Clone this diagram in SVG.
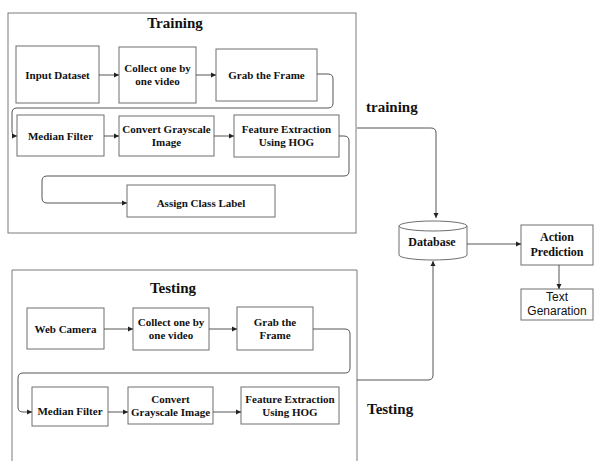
<svg xmlns="http://www.w3.org/2000/svg" width="594" height="461" viewBox="0 0 594 461">
<style>
.cont{fill:none;stroke:#7a7a7a;stroke-width:1}
.box{fill:#fff;stroke:#6e6e6e;stroke-width:1}
.t{font-family:"Liberation Serif","Times New Roman",serif;font-weight:bold;font-size:11px;fill:#111;text-anchor:middle}
.title{font-family:"Liberation Serif","Times New Roman",serif;font-weight:bold;font-size:15px;fill:#111}
.s{font-family:"Liberation Sans",Arial,sans-serif;font-size:12px;fill:#111;text-anchor:middle}
.c{fill:none;stroke:#555;stroke-width:1}
</style>
<defs>
<marker id="ah" markerWidth="6" markerHeight="6" refX="5" refY="3" orient="auto" markerUnits="userSpaceOnUse">
<path d="M0,0.5 L5,3 L0,5.5 Z" fill="#222"/>
</marker>
</defs>
<rect x="0" y="0" width="594" height="461" fill="#fff"/>
<g id="training-container">
<rect class="cont" x="8" y="13" width="348" height="220"/>
<text class="title" x="175" y="28" text-anchor="middle">Training</text>
</g>
<g id="testing-container">
<path class="cont" d="M12,470 V270 H357 V470"/>
<text class="title" x="173" y="293" text-anchor="middle">Testing</text>
</g>
<g id="tr-input"><rect class="box" x="16" y="46" width="83" height="57"/><text class="t" x="57.5" y="79">Input Dataset</text></g>
<g id="tr-collect"><rect class="box" x="119" y="47" width="77" height="56"/><text class="t" x="157.5" y="72">Collect one by</text><text class="t" x="157.5" y="85">one video</text></g>
<g id="tr-grab"><rect class="box" x="216" y="49" width="101" height="52"/><text class="t" x="266.5" y="79">Grab the Frame</text></g>
<g id="tr-median"><rect class="box" x="17" y="115" width="87" height="41"/><text class="t" x="60.5" y="140">Median Filter</text></g>
<g id="tr-gray"><rect class="box" x="119" y="116" width="95" height="40"/><text class="t" x="166.5" y="133">Convert Grayscale</text><text class="t" x="166.5" y="146">Image</text></g>
<g id="tr-hog"><rect class="box" x="234" y="115" width="105" height="42"/><text class="t" x="286.5" y="133">Feature Extraction</text><text class="t" x="286.5" y="146">Using HOG</text></g>
<g id="tr-assign"><rect class="box" x="127" y="185" width="148" height="32"/><text class="t" x="201" y="207">Assign Class Label</text></g>
<g id="te-webcam"><rect class="box" x="27" y="308" width="77" height="41"/><text class="t" x="65.5" y="333">Web Camera</text></g>
<g id="te-collect"><rect class="box" x="133" y="308" width="76" height="42"/><text class="t" x="171" y="326">Collect one by</text><text class="t" x="171" y="339">one video</text></g>
<g id="te-grab"><rect class="box" x="237" y="307" width="76" height="43"/><text class="t" x="275" y="326">Grab the</text><text class="t" x="275" y="339">Frame</text></g>
<g id="te-median"><rect class="box" x="32" y="387" width="76" height="39"/><text class="t" x="70" y="415">Median Filter</text></g>
<g id="te-gray"><rect class="box" x="128" y="387" width="85" height="37"/><text class="t" x="170.5" y="403">Convert</text><text class="t" x="170.5" y="416">Grayscale Image</text></g>
<g id="te-hog"><rect class="box" x="241" y="387" width="98" height="37"/><text class="t" x="290" y="403">Feature Extraction</text><text class="t" x="290" y="416">Using HOG</text></g>
<g id="database">
<path d="M399,226 V255 A34,5 0 0 0 467,255 V226" fill="#fff" stroke="#6e6e6e"/>
<ellipse cx="433" cy="226" rx="34" ry="5" fill="#fff" stroke="#6e6e6e"/>
<text class="t" x="432" y="246" font-size="12" style="font-size:12px">Database</text>
</g>
<g id="action"><rect class="box" x="521" y="225" width="72" height="40"/><text class="t" style="font-size:12px" x="557" y="241">Action</text><text class="t" style="font-size:12px" x="557" y="256">Prediction</text></g>
<g id="textgen"><rect class="box" x="521" y="289" width="72" height="31"/><text class="s" x="557" y="301">Text</text><text class="s" x="557" y="315">Genaration</text></g>
<g id="labels">
<text class="title" x="366" y="112">training</text>
<text class="title" x="367" y="414">Testing</text>
</g>
<g id="connectors">
<path class="c" marker-end="url(#ah)" d="M99,75 H119"/>
<path class="c" marker-end="url(#ah)" d="M196,75 H216"/>
<path class="c" marker-end="url(#ah)" d="M317,74 H328 Q333,74 333,79 V103 Q333,108 328,108 H17 Q12,108 12,113 V131 Q12,136 17,136"/>
<path class="c" marker-end="url(#ah)" d="M104,136 H119"/>
<path class="c" marker-end="url(#ah)" d="M214,136 H234"/>
<path class="c" marker-end="url(#ah)" d="M339,136 H344 Q349,136 349,141 V171 Q349,176 344,176 H47 Q42,176 42,181 V198 Q42,203 47,203 H127"/>
<path class="c" marker-end="url(#ah)" d="M104,329 H133"/>
<path class="c" marker-end="url(#ah)" d="M209,329 H237"/>
<path class="c" marker-end="url(#ah)" d="M313,329 H345 Q350,329 350,334 V368 Q350,373 345,373 H23 Q18,373 18,378 V407 Q18,412 23,412 H32"/>
<path class="c" marker-end="url(#ah)" d="M108,412 H128"/>
<path class="c" marker-end="url(#ah)" d="M213,412 H241"/>
<path class="c" marker-end="url(#ah)" d="M357,128 H431 Q436,128 436,133 V218"/>
<path class="c" marker-end="url(#ah)" d="M357,380 H428 Q433,380 433,375 V261"/>
<path class="c" marker-end="url(#ah)" d="M467,244 H521"/>
<path class="c" marker-end="url(#ah)" d="M559,265 V289"/>
</g>
</svg>
